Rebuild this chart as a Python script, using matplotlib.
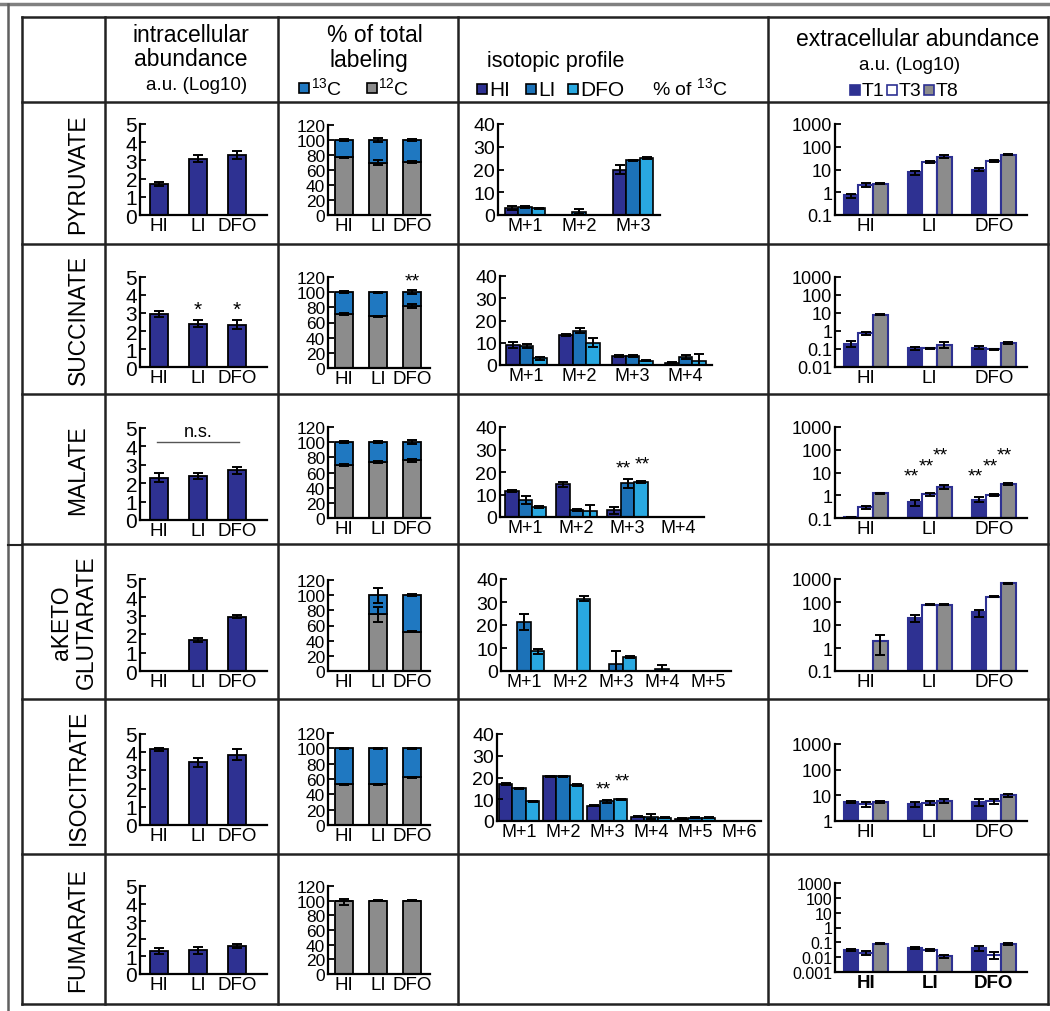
import numpy as np
import matplotlib
matplotlib.use('Agg')
from matplotlib import pyplot as plt
from matplotlib.lines import Line2D
from matplotlib.patches import Rectangle

plt.rcParams['font.family'] = ['Liberation Sans', 'DejaVu Sans']
plt.rcParams['mathtext.fontset'] = 'custom'
plt.rcParams['mathtext.rm'] = 'Liberation Sans'
plt.rcParams['mathtext.default'] = 'regular'

# ---------------- data ----------------
metabolites = ['PYRUVATE', 'SUCCINATE', 'MALATE', 'aKETO\nGLUTARATE', 'ISOCITRATE', 'FUMARATE']
conditions = ['HI', 'LI', 'DFO']

# intracellular abundance, a.u. (log10)
intra_mean = [[1.7, 3.1, 3.3], [2.95, 2.4, 2.35], [2.3, 2.4, 2.7],
              [0, 1.7, 2.95], [4.15, 3.45, 3.85], [1.3, 1.35, 1.6]]
intra_err = [[0.12, 0.18, 0.22], [0.18, 0.2, 0.25], [0.25, 0.18, 0.2],
             [0, 0.1, 0.08], [0.1, 0.25, 0.3], [0.15, 0.2, 0.1]]
intra_sig = [['', '', ''], ['', '*', '*'], ['', '', ''], ['', '', ''], ['', '', ''], ['', '', '']]

# % of total labeling: 12C part (13C fills up to 100)
c12_mean = [[77, 70, 71], [71, 68, 82], [70, 74, 76], [0, 75, 52], [53, 53, 62], [100, 100, 100]]
c12_err = [[1, 3, 1], [1, 0.5, 3], [1, 1, 2], [0, 10, 1], [0.5, 0.5, 0.5], [0, 0, 0]]
tot_err = [[1, 2.5, 1], [1, 0.5, 3], [1, 1.5, 2.5], [0, 10, 1], [0.5, 0.5, 0.5], [4, 1, 0.5]]
label_sig = [['', '', ''], ['', '', '**'], ['', '', ''], ['', '', ''], ['', '', ''], ['', '', '']]

# isotopic profile, % of 13C
iso_labels = [['M+1', 'M+2', 'M+3'],
              ['M+1', 'M+2', 'M+3', 'M+4'],
              ['M+1', 'M+2', 'M+3', 'M+4'],
              ['M+1', 'M+2', 'M+3', 'M+4', 'M+5'],
              ['M+1', 'M+2', 'M+3', 'M+4', 'M+5', 'M+6']]
iso_hi = [[3, 0, 20], [9, 13.5, 4, 1], [11.5, 14.5, 3, 0], [0, 0, 0, 0, 0], [17, 20.5, 7, 2, 1, 0]]
iso_li = [[3.5, 1.5, 24], [8.5, 15.5, 4, 3.5], [7.5, 3, 15, 0], [21.5, 0, 3, 1, 0], [15, 20.5, 9, 2, 1.5, 0]]
iso_dfo = [[3, 0, 25], [3, 10, 2, 2], [4.5, 2.5, 15.5, 0], [8.5, 31.5, 6, 0, 0], [9, 16.5, 10, 1.5, 1.5, 0]]
iso_hi_err = [[0.8, 0, 1.8], [1.2, 0.3, 0.3, 0.2], [0.5, 1, 1.5, 0], [0, 0, 0, 0, 0], [0.3, 0.3, 0.3, 0.3, 0.2, 0]]
iso_li_err = [[0.4, 1, 0.2], [0.8, 1.2, 0.3, 1], [1.8, 0.5, 2, 0], [3.5, 0, 5.5, 1.5, 0], [0.3, 0.3, 0.5, 1, 0.3, 0]]
iso_dfo_err = [[0.2, 0, 0.6], [0.7, 2, 0.3, 3], [0.3, 3, 0.5, 0], [1.2, 1, 0.5, 0, 0], [0.2, 0.3, 0.3, 0.3, 0.3, 0]]
iso_sig_li = [['', '', ''], ['', '', '', ''], ['', '', '**', ''], ['', '', '', '', ''], ['', '', '**', '', '', '']]
iso_sig_dfo = [['', '', ''], ['', '', '', ''], ['', '', '**', ''], ['', '', '', '', ''], ['', '', '**', '', '', '']]

# extracellular abundance, a.u. (log10 axis), time points T1, T3, T8
ext_t1 = [[0.72, 7.5, 10], [0.2, 0.11, 0.12], [0.11, 0.5, 0.65], [0, 20, 35], [5.5, 4.5, 5.5], [0.03, 0.04, 0.04]]
ext_t3 = [[2.1, 21, 24], [0.75, 0.11, 0.095], [0.3, 1.1, 1.0], [0, 75, 170], [4.5, 5, 6], [0.02, 0.03, 0.015]]
ext_t8 = [[2.4, 37, 45], [8, 0.17, 0.22], [1.2, 2.3, 3.2], [2, 75, 650], [5.5, 6, 10], [0.08, 0.012, 0.08]]
ext_t1_err = [[0.15, 1.5, 1.5], [0.07, 0.02, 0.02], [0.005, 0.15, 0.15], [0, 7, 12], [0.5, 1, 1.5], [0.005, 0.005, 0.015]]
ext_t3_err = [[0.4, 2, 3], [0.15, 0.01, 0.01], [0.05, 0.15, 0.1], [0, 3, 10], [1, 0.8, 1.5], [0.005, 0.004, 0.008]]
ext_t8_err = [[0.2, 5, 3], [0.5, 0.06, 0.03], [0.1, 0.4, 0.4], [1.5, 3, 40], [0.5, 1, 1], [0.005, 0.003, 0.01]]
ext_sig = [['', '', ''], ['', '', ''], ['', '**', '**'], ['', '', ''], ['', '', ''], ['', '', '']]
ext_sig_y = [3.1, 7.8, 26]
ext_ymin = [0.1, 0.01, 0.1, 0.1, 1, 0.001]

# ---------------- styling ----------------
NAVY = '#2e3192'
LI_BLUE = '#1c72b8'
DFO_BLUE = '#29a8e0'
C13_BLUE = '#1f78c1'
GREY = '#8c8c8c'

W, H = 1050, 1012
fig = plt.figure(figsize=(W / 100, H / 100), dpi=100)


def box(x0, y0, x1, y1):
    # pixel box (top-left origin) -> figure fraction rect
    return [x0 / W, 1 - y1 / H, (x1 - x0) / W, (y1 - y0) / H]


def style(ax, ysize, xsize=13.5):
    for s in ['top', 'right']:
        ax.spines[s].set_visible(False)
    for s in ['left', 'bottom']:
        ax.spines[s].set_linewidth(1.6)
        ax.spines[s].set_color('black')
    ax.tick_params(axis='y', direction='in', length=4, width=1.3, labelsize=ysize, pad=2)
    ax.tick_params(axis='x', length=0, labelsize=xsize, pad=1.5)
    ax.patch.set_alpha(0)


err_kw = dict(fmt='none', ecolor='black', elinewidth=1.4, capsize=3.5, capthick=1.4, zorder=5)

# row pixel boxes (top, bottom) per column
rows_c1 = [(125, 216), (278, 368), (429, 521), (580, 672), (735, 826), (887, 975)]
rows_c2 = [(126, 216), (278, 369), (428, 519), (581, 672), (734, 826), (887, 975)]
rows_c3 = [(125, 216), (277, 366), (428, 518), (580, 672), (735, 822)]
rows_c4 = [(125, 216), (278, 368), (428, 519), (580, 672), (745, 822), (884, 973)]
c3_x = [(498, 54), (500, 53), (500, 51), (501, 46), (497, 44)]

x = np.arange(3)
for r in range(6):
    # --- intracellular abundance
    t, b = rows_c1[r]
    ax = fig.add_axes(box(140, t, 267, b))
    m = np.array(intra_mean[r]); e = np.array(intra_err[r])
    keep = m > 0
    ax.bar(x[keep], m[keep], width=0.46, color=NAVY, edgecolor='black', linewidth=1.3)
    ax.errorbar(x[keep], m[keep], yerr=e[keep], **err_kw)
    for i in range(3):
        if intra_sig[r][i]:
            ax.text(i, m[i] + e[i] + 0.1, intra_sig[r][i], ha='center', va='bottom', fontsize=15)
    if metabolites[r] == 'MALATE':
        ax.plot([-0.05, 2.05], [4.25, 4.25], color='#555555', lw=1)
        ax.text(1, 4.35, 'n.s.', ha='center', va='bottom', fontsize=13)
    ax.set_xlim(-0.49, 2.77)
    ax.set_ylim(0, 5)
    ax.set_yticks([0, 1, 2, 3, 4, 5])
    ax.set_xticks(x)
    ax.set_xticklabels(conditions)
    style(ax, 15)

    # --- % of total labeling
    t, b = rows_c2[r]
    ax = fig.add_axes(box(328, t, 430, b))
    m = np.array(c12_mean[r], dtype=float)
    keep = m > 0
    top = 100 - m
    ax.bar(x[keep], m[keep], width=0.53, color=GREY, edgecolor='black', linewidth=1.3)
    ax.bar(x[keep], top[keep], bottom=m[keep], width=0.53, color=C13_BLUE, edgecolor='black', linewidth=1.3)
    for i in range(3):
        if not keep[i]:
            continue
        if c12_err[r][i] > 0 and m[i] < 100:
            ax.errorbar(i, m[i], yerr=c12_err[r][i], **err_kw)
        ax.errorbar(i, 100 - (2 if (r == 5 and i == 0) else 0), yerr=tot_err[r][i], **err_kw)
        if label_sig[r][i]:
            ax.text(i, 104, label_sig[r][i], ha='center', va='bottom', fontsize=14)
    ax.set_xlim(-0.47, 2.53)
    ax.set_ylim(0, 120)
    ax.set_yticks(range(0, 121, 20))
    ax.set_xticks(x)
    ax.set_xticklabels(conditions)
    style(ax, 12.5)

    # --- isotopic profile
    if r < 5:
        t, b = rows_c3[r]
        sx, sp = c3_x[r]
        n = len(iso_labels[r])
        ax = fig.add_axes(box(sx, t, sx + n * sp, b))
        bw = 13.5 / sp
        g = np.arange(n)
        for k, (vals, errs, col) in enumerate([(iso_hi, iso_hi_err, NAVY), (iso_li, iso_li_err, LI_BLUE),
                                               (iso_dfo, iso_dfo_err, DFO_BLUE)]):
            v = np.array(vals[r], dtype=float); e = np.array(errs[r], dtype=float)
            keep = v > 0
            xp = g + (k - 1) * bw
            ax.bar(xp[keep], v[keep], width=bw, color=col, edgecolor='black', linewidth=1.2)
            ke = keep & (e > 0)
            ax.errorbar(xp[ke], v[ke], yerr=e[ke], **err_kw)
        for i in range(n):
            if iso_sig_li[r][i]:
                yv = iso_li[r][i] + iso_li_err[r][i]
                ax.text(i - bw * 0.3, yv + 1.2, iso_sig_li[r][i], ha='center', va='bottom', fontsize=14)
            if iso_sig_dfo[r][i]:
                yv = iso_dfo[r][i] + iso_dfo_err[r][i]
                ax.text(i + bw * 1.1, yv + 4, iso_sig_dfo[r][i], ha='center', va='bottom', fontsize=14)
        ax.set_xlim(-0.5, n - 0.5)
        ax.set_ylim(0, 40)
        ax.set_yticks([0, 10, 20, 30, 40])
        ax.set_xticks(g)
        ax.set_xticklabels(iso_labels[r])
        style(ax, 14, 13)

    # --- extracellular abundance
    t, b = rows_c4[r]
    ax = fig.add_axes(box(835, t, 1027, b))
    ymin = ext_ymin[r]
    bw = 0.23
    for k, (vals, errs, col) in enumerate([(ext_t1, ext_t1_err, NAVY), (ext_t3, ext_t3_err, 'white'),
                                           (ext_t8, ext_t8_err, GREY)]):
        v = np.array(vals[r], dtype=float); e = np.array(errs[r], dtype=float)
        keep = v > 0
        xp = x + (k - 1) * bw
        ax.bar(xp[keep], v[keep] - ymin, bottom=ymin, width=bw, color=col, edgecolor=NAVY, linewidth=1.5)
        ax.errorbar(xp[keep], v[keep], yerr=e[keep], **err_kw)
        for i in range(3):
            if ext_sig[r][i] and keep[i]:
                ax.text(xp[i] - 0.06, ext_sig_y[k], ext_sig[r][i], ha='center', va='bottom', fontsize=14)
    ax.set_yscale('log')
    ax.set_ylim(ymin, 1000)
    ticks = [10.0 ** p for p in range(int(round(np.log10(ymin))), 4)]
    ax.set_yticks(ticks)
    ax.set_yticklabels(['%g' % tv for tv in ticks])
    ax.minorticks_off()
    ax.set_xlim(-0.48, 2.52)
    ax.set_xticks(x)
    ax.set_xticklabels(conditions, fontweight='bold' if r == 5 else 'normal')
    style(ax, 13 if r < 5 else 11.5)

# ---------------- table grid ----------------
row_lines = [18, 103, 245, 395, 545, 700, 855, 1005]
col_lines = [22, 105, 278, 458, 768, 1048]
for yl in row_lines:
    fig.add_artist(Line2D([22 / W, 1048 / W], [1 - yl / H] * 2, color='#222222', lw=1.8))
for xl in col_lines:
    fig.add_artist(Line2D([xl / W] * 2, [1 - 18 / H, 1 - 1005 / H], color='#222222', lw=1.8))
# outer grey frame
fig.add_artist(Line2D([0, 1], [1 - 5 / H] * 2, color='#808080', lw=2.5))
fig.add_artist(Line2D([8 / W] * 2, [1 - 5 / H, 0], color='#606060', lw=1.8))
fig.add_artist(Line2D([8 / W, 22 / W], [1 - 546 / H] * 2, color='#222222', lw=1.5))

# row labels
for r, name in enumerate(metabolites):
    yc = (row_lines[r + 1] + row_lines[r + 2]) / 2
    xc = 78 if '\n' not in name else 74
    fig.text(xc / W, 1 - yc / H, name, rotation=90, ha='center', va='center', fontsize=16.5,
             linespacing=1.1)


# ---------------- header ----------------
def ht(xp, yp, s, size=16.5):
    fig.text(xp / W, 1 - yp / H, s, ha='center', va='center', fontsize=size)


def sq(xp, yp, col, edge='black'):
    fig.add_artist(Rectangle((xp / W, 1 - (yp + 5) / H), 10 / W, 10 / H, transform=fig.transFigure,
                             facecolor=col, edgecolor=edge, lw=1.2))


def lt(xp, yp, s, size=15):
    fig.text(xp / W, 1 - yp / H, s, ha='left', va='center', fontsize=size)


ht(191, 35, 'intracellular')
ht(191, 60, 'abundance')
ht(197, 86, 'a.u. (Log10)', 13.5)
ht(375, 35, '% of total')
ht(369, 60, 'labeling')
sq(299, 89, C13_BLUE)
lt(311, 88, '$^{13}$C', 14)
sq(367, 89, GREY)
lt(378, 88, '$^{12}$C', 14)
ht(556, 61, 'isotopic profile', 15.5)
sq(477, 90, NAVY)
lt(489, 90, 'HI')
sq(526, 90, LI_BLUE)
lt(538, 90, 'LI')
sq(568, 90, DFO_BLUE)
lt(580, 90, 'DFO')
lt(652, 88, '% of $^{13}$C', 14)
ht(918, 39, 'extracellular abundance')
ht(910, 65, 'a.u. (Log10)', 13.5)
sq(850, 91, NAVY, NAVY)
lt(862, 91, 'T1', 14)
sq(887, 91, 'white', NAVY)
lt(899, 91, 'T3', 14)
sq(924, 91, GREY, NAVY)
lt(936, 91, 'T8', 14)

fig.savefig('out.png', dpi=100, facecolor='white')
